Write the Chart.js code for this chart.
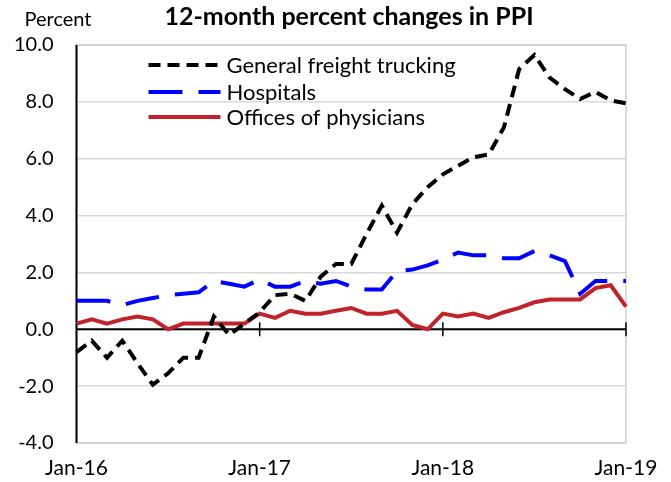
<!DOCTYPE html>
<html><head><meta charset="utf-8">
<script src="https://cdn.jsdelivr.net/npm/chart.js@4"></script>
<style>html,body{margin:0;padding:0;background:#fff}#wrap{width:671px;height:482px}</style>
</head><body><div id="wrap"><canvas id="c" width="671" height="482"></canvas></div>
<script>
const months = ["Jan","Feb","Mar","Apr","May","Jun","Jul","Aug","Sep","Oct","Nov","Dec"];
const categories = [];
for (const yr of ["16","17","18"]) for (const m of months) categories.push(m + "-" + yr);
categories.push("Jan-19");

const freightTrucking = [-0.8,-0.4,-1.0,-0.4,-1.2,-1.95,-1.55,-1.0,-1.0,0.45,-0.2,0.2,
  0.6,1.2,1.25,1.0,1.85,2.3,2.3,3.35,4.35,3.4,4.4,5.0,
  5.45,5.75,6.05,6.15,7.1,9.15,9.65,8.85,8.45,8.1,8.35,8.05,7.95];
const hospitals = [1.0,1.0,1.0,0.85,1.0,1.1,1.2,1.25,1.3,1.7,1.6,1.5,
  1.75,1.5,1.5,1.7,1.6,1.7,1.5,1.4,1.4,2.05,2.1,2.25,
  2.45,2.7,2.6,2.6,2.5,2.5,2.75,2.6,2.4,1.25,1.7,1.7,1.7];
const physicians = [0.2,0.35,0.2,0.35,0.45,0.35,0.0,0.2,0.2,0.2,0.2,0.2,
  0.55,0.4,0.65,0.55,0.55,0.65,0.75,0.55,0.55,0.65,0.15,0.0,
  0.55,0.45,0.55,0.4,0.6,0.75,0.95,1.05,1.05,1.05,1.45,1.55,0.8];
const seriesNames = ["General freight trucking","Hospitals","Offices of physicians"];
const yTicks = [-4,-2,0,2,4,6,8,10];
const titleText = "12-month percent changes in PPI";
const yUnit = "Percent";

const FONT = "Lato, 'Open Sans', sans-serif";

const decor = {
  id: 'decor',
  beforeDatasetsDraw(chart) {
    const {ctx, chartArea: a, scales: {x, y}} = chart;
    ctx.save();
    ctx.strokeStyle = '#d0d0d0'; ctx.lineWidth = 1.5;
    ctx.strokeRect(a.left, a.top, a.right - a.left, a.bottom - a.top);
    ctx.strokeStyle = '#000'; ctx.lineWidth = 2;
    ctx.beginPath(); ctx.moveTo(a.left, a.top); ctx.lineTo(a.left, a.bottom); ctx.stroke();
    const y0 = y.getPixelForValue(0);
    ctx.beginPath(); ctx.moveTo(a.left, y0); ctx.lineTo(a.right, y0); ctx.stroke();
    ctx.lineWidth = 1.5;
    categories.forEach((c, i) => {
      if (c.startsWith("Jan") && i > 0) {
        const px = x.getPixelForValue(i);
        ctx.beginPath(); ctx.moveTo(px, y0 - 7); ctx.lineTo(px, y0 + 7); ctx.stroke();
      }
    });
    ctx.restore();
  },
  afterDraw(chart) {
    const {ctx, chartArea: a} = chart;
    ctx.save();
    ctx.fillStyle = '#000';
    ctx.textBaseline = 'middle';
    ctx.font = "bold 25px " + FONT;
    ctx.textAlign = 'center';
    ctx.fillText(titleText, 349, 17);
    ctx.font = "20px " + FONT;
    ctx.fillText(yUnit, 58, 20);
    const rows = [65, 92, 117];
    ctx.font = "22px " + FONT;
    ctx.textAlign = 'left';
    chart.data.datasets.forEach((ds, i) => {
      ctx.strokeStyle = ds.borderColor; ctx.lineWidth = ds.borderWidth;
      ctx.setLineDash(ds.borderDash || []);
      ctx.beginPath(); ctx.moveTo(a.left + 72, rows[i]); ctx.lineTo(a.left + 144, rows[i]); ctx.stroke();
      ctx.setLineDash([]);
      ctx.fillText(ds.label, a.left + 150, rows[i] + 1);
    });
    ctx.restore();
  }
};

new Chart(document.getElementById('c'), {
  type: 'line',
  data: {
    labels: categories,
    datasets: [
      {label: seriesNames[0], data: freightTrucking, borderColor: '#000000', borderWidth: 4, borderDash: [12, 7], pointRadius: 0, tension: 0, fill: false},
      {label: seriesNames[1], data: hospitals, borderColor: '#0000ff', borderWidth: 4, borderDash: [34, 16], pointRadius: 0, tension: 0, fill: false},
      {label: seriesNames[2], data: physicians, borderColor: '#c0232b', borderWidth: 4, pointRadius: 0, tension: 0, fill: false}
    ]
  },
  options: {
    responsive: false,
    animation: false,
    layout: {padding: {top: 45, right: 45, left: 0, bottom: 0}},
    plugins: {legend: {display: false}, title: {display: false}, tooltip: {enabled: false}},
    scales: {
      x: {
        type: 'category',
        offset: false,
        grid: {display: false, drawTicks: false},
        border: {display: false},
        ticks: {
          autoSkip: false, maxRotation: 0, minRotation: 0, padding: 13,
          color: '#000', font: {family: FONT, size: 21},
          callback: (v, i) => categories[i].startsWith("Jan") ? categories[i] : ''
        },
        afterFit: s => { s.height = 39; }
      },
      y: {
        min: -4, max: 10,
        afterBuildTicks: s => { s.ticks = yTicks.map(v => ({value: v})); },
        grid: {color: '#d9d9d9', lineWidth: 1.5, drawTicks: false},
        border: {display: false},
        ticks: {
          padding: 23, color: '#000', font: {family: FONT, size: 20},
          callback: v => Number(v).toFixed(1)
        },
        afterFit: s => { s.width = 76.5; }
      }
    }
  },
  plugins: [decor]
});
</script>
</body></html>
